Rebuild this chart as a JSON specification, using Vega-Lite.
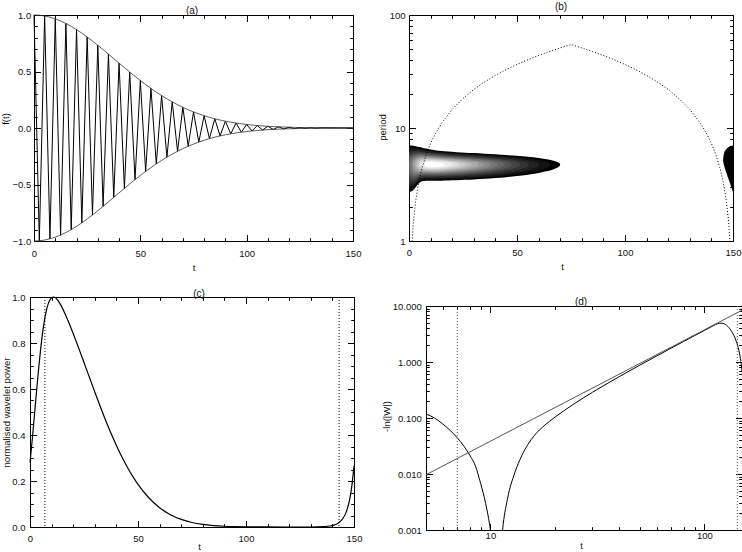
{
"$schema": "https://vega.github.io/schema/vega-lite/v6.json",
"background": "white",
"padding": {"left": 0, "top": 1, "right": 0, "bottom": 0},
"autosize": {"type": "pad"},
"config": {
 "font": "Liberation Sans",
 "view": {"stroke": "#000", "strokeWidth": 1},
 "axis": {"domain": false, "grid": false, "tickColor": "#000", "tickWidth": 1, "labelFont": "Liberation Sans Narrow, Liberation Sans", "labelFontSize": 9.5, "labelColor": "#111", "titleFont": "Liberation Sans", "titleFontSize": 9.5, "titleFontWeight": "normal", "titleColor": "#111", "labelOverlap": false, "labelFlush": false, "labelBound": false, "minExtent": 0},
 "title": {"font": "Liberation Sans", "fontSize": 10, "fontWeight": "normal", "color": "#111"}
},
"datasets": {
 "osc": [
  {"t":0,"f":1,"up":1,"lo":-1},{"t":2.5,"f":-0.9978,"up":0.9978,"lo":-0.9978},{"t":5,"f":0.9914,"up":0.9914,"lo":-0.9914},{"t":7.5,"f":-0.9807,"up":0.9807,"lo":-0.9807},{"t":10,"f":0.9659,"up":0.9659,"lo":-0.9659},{"t":12.5,"f":-0.9473,"up":0.9473,"lo":-0.9473},{"t":15,"f":0.925,"up":0.925,"lo":-0.925},{"t":17.5,"f":-0.8993,"up":0.8993,"lo":-0.8993},{"t":20,"f":0.8705,"up":0.8705,"lo":-0.8705},{"t":22.5,"f":-0.839,"up":0.839,"lo":-0.839},{"t":25,"f":0.8052,"up":0.8052,"lo":-0.8052},{"t":27.5,"f":-0.7694,"up":0.7694,"lo":-0.7694},{"t":30,"f":0.7319,"up":0.7319,"lo":-0.7319},{"t":32.5,"f":-0.6933,"up":0.6933,"lo":-0.6933},{"t":35,"f":0.6539,"up":0.6539,"lo":-0.6539},{"t":37.5,"f":-0.6141,"up":0.6141,"lo":-0.6141},{"t":40,"f":0.5742,"up":0.5742,"lo":-0.5742},{"t":42.5,"f":-0.5346,"up":0.5346,"lo":-0.5346},{"t":45,"f":0.4955,"up":0.4955,"lo":-0.4955},{"t":47.5,"f":-0.4573,"up":0.4573,"lo":-0.4573},{"t":50,"f":0.4203,"up":0.4203,"lo":-0.4203},{"t":52.5,"f":-0.3845,"up":0.3845,"lo":-0.3845},{"t":55,"f":0.3503,"up":0.3503,"lo":-0.3503},{"t":57.5,"f":-0.3178,"up":0.3178,"lo":-0.3178},{"t":60,"f":0.287,"up":0.287,"lo":-0.287},{"t":62.5,"f":-0.2581,"up":0.2581,"lo":-0.2581},{"t":65,"f":0.2311,"up":0.2311,"lo":-0.2311},{"t":67.5,"f":-0.206,"up":0.206,"lo":-0.206},{"t":70,"f":0.1829,"up":0.1829,"lo":-0.1829},{"t":72.5,"f":-0.1616,"up":0.1616,"lo":-0.1616},{"t":75,"f":0.1422,"up":0.1422,"lo":-0.1422},{"t":77.5,"f":-0.1246,"up":0.1246,"lo":-0.1246},{"t":80,"f":0.1087,"up":0.1087,"lo":-0.1087},{"t":82.5,"f":-0.0944,"up":0.0944,"lo":-0.0944},{"t":85,"f":0.0817,"up":0.0817,"lo":-0.0817},{"t":87.5,"f":-0.0703,"up":0.0703,"lo":-0.0703},{"t":90,"f":0.0603,"up":0.0603,"lo":-0.0603},{"t":92.5,"f":-0.0515,"up":0.0515,"lo":-0.0515},{"t":95,"f":0.0437,"up":0.0437,"lo":-0.0437},{"t":97.5,"f":-0.037,"up":0.037,"lo":-0.037},{"t":100,"f":0.0312,"up":0.0312,"lo":-0.0312},{"t":102.5,"f":-0.0262,"up":0.0262,"lo":-0.0262},{"t":105,"f":0.0219,"up":0.0219,"lo":-0.0219},{"t":107.5,"f":-0.0182,"up":0.0182,"lo":-0.0182},{"t":110,"f":0.0151,"up":0.0151,"lo":-0.0151},{"t":112.5,"f":-0.0124,"up":0.0124,"lo":-0.0124},{"t":115,"f":0.0102,"up":0.0102,"lo":-0.0102},{"t":117.5,"f":-0.0083,"up":0.0083,"lo":-0.0083},{"t":120,"f":0.0068,"up":0.0068,"lo":-0.0068},{"t":122.5,"f":-0.0055,"up":0.0055,"lo":-0.0055},{"t":125,"f":0.0044,"up":0.0044,"lo":-0.0044},{"t":127.5,"f":-0.0036,"up":0.0036,"lo":-0.0036},{"t":130,"f":0.0029,"up":0.0029,"lo":-0.0029},{"t":132.5,"f":-0.0023,"up":0.0023,"lo":-0.0023},{"t":135,"f":0.0018,"up":0.0018,"lo":-0.0018},{"t":150,"f":0,"up":0,"lo":0}
 ],
 "heat": [
  {"lev":"L0","t":0,"lo":0.434,"hi":0.846},{"lev":"L0","t":1,"lo":0.438,"hi":0.845},{"lev":"L0","t":2,"lo":0.452,"hi":0.843},{"lev":"L0","t":3,"lo":0.473,"hi":0.839},{"lev":"L0","t":4,"lo":0.4995,"hi":0.835},{"lev":"L0","t":5,"lo":0.518,"hi":0.831},{"lev":"L0","t":6,"lo":0.528,"hi":0.826},{"lev":"L0","t":8,"lo":0.5335,"hi":0.818},{"lev":"L0","t":10,"lo":0.533,"hi":0.81},{"lev":"L0","t":12,"lo":0.533,"hi":0.804},{"lev":"L0","t":15,"lo":0.534,"hi":0.7965},{"lev":"L0","t":18,"lo":0.536,"hi":0.791},{"lev":"L0","t":22,"lo":0.538,"hi":0.786},{"lev":"L0","t":26,"lo":0.541,"hi":0.782},{"lev":"L0","t":30,"lo":0.545,"hi":0.778},{"lev":"L0","t":35,"lo":0.5506,"hi":0.773},{"lev":"L0","t":40,"lo":0.557,"hi":0.768},{"lev":"L0","t":45,"lo":0.565,"hi":0.761},{"lev":"L0","t":50,"lo":0.575,"hi":0.754},{"lev":"L0","t":55,"lo":0.587,"hi":0.745},{"lev":"L0","t":60,"lo":0.602,"hi":0.734},{"lev":"L0","t":63,"lo":0.614,"hi":0.725},{"lev":"L0","t":66,"lo":0.629,"hi":0.714},{"lev":"L0","t":68,"lo":0.643,"hi":0.7037},{"lev":"L0","t":69.3,"lo":0.6575,"hi":0.693},{"lev":"L0","t":69.8,"lo":0.667,"hi":0.686},{"lev":"L0","t":70,"lo":0.678,"hi":0.678},
  {"lev":"M0","t":0,"lo":0.4606,"hi":0.8276},{"lev":"M0","t":1,"lo":0.4523,"hi":0.8294},{"lev":"M0","t":2,"lo":0.4653,"hi":0.8285},{"lev":"M0","t":3,"lo":0.4895,"hi":0.8263},{"lev":"M0","t":4,"lo":0.5131,"hi":0.8231},{"lev":"M0","t":5,"lo":0.5299,"hi":0.8196},{"lev":"M0","t":6,"lo":0.5388,"hi":0.8158},{"lev":"M0","t":8,"lo":0.5433,"hi":0.8081},{"lev":"M0","t":10,"lo":0.5431,"hi":0.8012},{"lev":"M0","t":12,"lo":0.5431,"hi":0.7953},{"lev":"M0","t":15,"lo":0.5442,"hi":0.7884},{"lev":"M0","t":18,"lo":0.5457,"hi":0.7833},{"lev":"M0","t":22,"lo":0.5484,"hi":0.7779},{"lev":"M0","t":26,"lo":0.5518,"hi":0.7737},{"lev":"M0","t":30,"lo":0.5557,"hi":0.7698},{"lev":"M0","t":35,"lo":0.5618,"hi":0.7647},{"lev":"M0","t":40,"lo":0.5691,"hi":0.7588},{"lev":"M0","t":45,"lo":0.5781,"hi":0.7519},{"lev":"M0","t":50,"lo":0.5892,"hi":0.7437},{"lev":"M0","t":55,"lo":0.6035,"hi":0.7332},{"lev":"M0","t":60,"lo":0.6231,"hi":0.7186},{"lev":"M0","t":63,"lo":0.6408,"hi":0.7055},{"lev":"M0","t":64.5,"lo":0.6548,"hi":0.6952},{"lev":"M0","t":65.44,"lo":0.678,"hi":0.678},
  {"lev":"L1","t":0,"lo":0.4935,"hi":0.805},{"lev":"L1","t":1,"lo":0.487,"hi":0.81},{"lev":"L1","t":2,"lo":0.4892,"hi":0.8116},{"lev":"L1","t":3,"lo":0.509,"hi":0.811},{"lev":"L1","t":4,"lo":0.529,"hi":0.809},{"lev":"L1","t":5,"lo":0.5434,"hi":0.8066},{"lev":"L1","t":6,"lo":0.551,"hi":0.8036},{"lev":"L1","t":8,"lo":0.5547,"hi":0.797},{"lev":"L1","t":10,"lo":0.5544,"hi":0.791},{"lev":"L1","t":12,"lo":0.5544,"hi":0.7855},{"lev":"L1","t":15,"lo":0.5555,"hi":0.779},{"lev":"L1","t":18,"lo":0.5573,"hi":0.774},{"lev":"L1","t":22,"lo":0.5602,"hi":0.7688},{"lev":"L1","t":26,"lo":0.5639,"hi":0.7645},{"lev":"L1","t":30,"lo":0.5683,"hi":0.7604},{"lev":"L1","t":35,"lo":0.575,"hi":0.7548},{"lev":"L1","t":40,"lo":0.5834,"hi":0.7481},{"lev":"L1","t":45,"lo":0.5939,"hi":0.7402},{"lev":"L1","t":50,"lo":0.6075,"hi":0.7302},{"lev":"L1","t":55,"lo":0.6266,"hi":0.7161},{"lev":"L1","t":58,"lo":0.6442,"hi":0.7031},{"lev":"L1","t":59,"lo":0.6529,"hi":0.6966},{"lev":"L1","t":60,"lo":0.6678,"hi":0.6855},{"lev":"L1","t":60.2,"lo":0.678,"hi":0.678},
  {"lev":"M1","t":0,"lo":0.5254,"hi":0.783},{"lev":"M1","t":1,"lo":0.5079,"hi":0.7921},{"lev":"M1","t":2,"lo":0.5112,"hi":0.7961},{"lev":"M1","t":3,"lo":0.5264,"hi":0.7973},{"lev":"M1","t":4,"lo":0.5431,"hi":0.7967},{"lev":"M1","t":5,"lo":0.5555,"hi":0.7951},{"lev":"M1","t":6,"lo":0.562,"hi":0.7928},{"lev":"M1","t":8,"lo":0.5648,"hi":0.7873},{"lev":"M1","t":10,"lo":0.5643,"hi":0.7818},{"lev":"M1","t":12,"lo":0.5644,"hi":0.7768},{"lev":"M1","t":15,"lo":0.5656,"hi":0.7707},{"lev":"M1","t":18,"lo":0.5675,"hi":0.766},{"lev":"M1","t":22,"lo":0.5707,"hi":0.7607},{"lev":"M1","t":26,"lo":0.5748,"hi":0.7563},{"lev":"M1","t":30,"lo":0.5797,"hi":0.7518},{"lev":"M1","t":35,"lo":0.5873,"hi":0.7456},{"lev":"M1","t":40,"lo":0.5969,"hi":0.7381},{"lev":"M1","t":45,"lo":0.6095,"hi":0.7287},{"lev":"M1","t":50,"lo":0.627,"hi":0.7157},{"lev":"M1","t":53,"lo":0.6429,"hi":0.7039},{"lev":"M1","t":55,"lo":0.6614,"hi":0.6903},{"lev":"M1","t":55.6,"lo":0.678,"hi":0.678},
  {"lev":"L2","t":0,"lo":0.5574,"hi":0.761},{"lev":"L2","t":1,"lo":0.5335,"hi":0.775},{"lev":"L2","t":2,"lo":0.5315,"hi":0.7817},{"lev":"L2","t":3,"lo":0.5424,"hi":0.7847},{"lev":"L2","t":4,"lo":0.556,"hi":0.7854},{"lev":"L2","t":5,"lo":0.5664,"hi":0.7847},{"lev":"L2","t":6,"lo":0.5718,"hi":0.7832},{"lev":"L2","t":8,"lo":0.5738,"hi":0.7786},{"lev":"L2","t":10,"lo":0.5732,"hi":0.7738},{"lev":"L2","t":12,"lo":0.5732,"hi":0.7692},{"lev":"L2","t":15,"lo":0.5745,"hi":0.7633},{"lev":"L2","t":18,"lo":0.5766,"hi":0.7587},{"lev":"L2","t":22,"lo":0.5801,"hi":0.7534},{"lev":"L2","t":26,"lo":0.5846,"hi":0.7488},{"lev":"L2","t":30,"lo":0.59,"hi":0.7441},{"lev":"L2","t":35,"lo":0.5986,"hi":0.7372},{"lev":"L2","t":40,"lo":0.6099,"hi":0.7285},{"lev":"L2","t":45,"lo":0.6254,"hi":0.7169},{"lev":"L2","t":48,"lo":0.6389,"hi":0.707},{"lev":"L2","t":50,"lo":0.6522,"hi":0.6971},{"lev":"L2","t":51,"lo":0.6632,"hi":0.689},{"lev":"L2","t":51.6,"lo":0.678,"hi":0.678},
  {"lev":"M2","t":0,"lo":0.5931,"hi":0.7364},{"lev":"M2","t":1,"lo":0.5591,"hi":0.7578},{"lev":"M2","t":2,"lo":0.551,"hi":0.7679},{"lev":"M2","t":3,"lo":0.5574,"hi":0.7729},{"lev":"M2","t":4,"lo":0.5678,"hi":0.7749},{"lev":"M2","t":5,"lo":0.5763,"hi":0.7752},{"lev":"M2","t":6,"lo":0.5807,"hi":0.7743},{"lev":"M2","t":8,"lo":0.582,"hi":0.7708},{"lev":"M2","t":10,"lo":0.5812,"hi":0.7664},{"lev":"M2","t":12,"lo":0.5812,"hi":0.7622},{"lev":"M2","t":15,"lo":0.5827,"hi":0.7566},{"lev":"M2","t":18,"lo":0.5849,"hi":0.7521},{"lev":"M2","t":22,"lo":0.5888,"hi":0.7468},{"lev":"M2","t":26,"lo":0.5937,"hi":0.7419},{"lev":"M2","t":30,"lo":0.5998,"hi":0.7368},{"lev":"M2","t":35,"lo":0.6095,"hi":0.729},{"lev":"M2","t":40,"lo":0.623,"hi":0.7188},{"lev":"M2","t":44,"lo":0.6387,"hi":0.7071},{"lev":"M2","t":46,"lo":0.6507,"hi":0.6982},{"lev":"M2","t":47.8,"lo":0.678,"hi":0.678},
  {"lev":"L3","t":0,"lo":0.6474,"hi":0.699},{"lev":"L3","t":0.5,"lo":0.606,"hi":0.7264},{"lev":"L3","t":1,"lo":0.5865,"hi":0.7394},{"lev":"L3","t":2,"lo":0.5704,"hi":0.7542},{"lev":"L3","t":3,"lo":0.5719,"hi":0.7615},{"lev":"L3","t":4,"lo":0.5791,"hi":0.765},{"lev":"L3","t":5,"lo":0.5857,"hi":0.7662},{"lev":"L3","t":6,"lo":0.589,"hi":0.7661},{"lev":"L3","t":8,"lo":0.5895,"hi":0.7635},{"lev":"L3","t":10,"lo":0.5886,"hi":0.7596},{"lev":"L3","t":12,"lo":0.5887,"hi":0.7557},{"lev":"L3","t":15,"lo":0.5902,"hi":0.7504},{"lev":"L3","t":18,"lo":0.5927,"hi":0.7459},{"lev":"L3","t":22,"lo":0.5969,"hi":0.7405},{"lev":"L3","t":26,"lo":0.6023,"hi":0.7354},{"lev":"L3","t":30,"lo":0.6092,"hi":0.7297},{"lev":"L3","t":35,"lo":0.6205,"hi":0.7208},{"lev":"L3","t":40,"lo":0.6375,"hi":0.7081},{"lev":"L3","t":43,"lo":0.6547,"hi":0.6952},{"lev":"L3","t":44.4,"lo":0.678,"hi":0.678},
  {"lev":"M3","t":0.52,"lo":0.678,"hi":0.678},{"lev":"M3","t":1,"lo":0.62,"hi":0.7169},{"lev":"M3","t":2,"lo":0.5908,"hi":0.7397},{"lev":"M3","t":3,"lo":0.5863,"hi":0.7501},{"lev":"M3","t":4,"lo":0.5902,"hi":0.7553},{"lev":"M3","t":5,"lo":0.5947,"hi":0.7576},{"lev":"M3","t":6,"lo":0.5969,"hi":0.7582},{"lev":"M3","t":8,"lo":0.5967,"hi":0.7565},{"lev":"M3","t":10,"lo":0.5956,"hi":0.7532},{"lev":"M3","t":12,"lo":0.5957,"hi":0.7496},{"lev":"M3","t":15,"lo":0.5974,"hi":0.7445},{"lev":"M3","t":18,"lo":0.6,"hi":0.7401},{"lev":"M3","t":22,"lo":0.6047,"hi":0.7345},{"lev":"M3","t":26,"lo":0.6107,"hi":0.729},{"lev":"M3","t":30,"lo":0.6186,"hi":0.7226},{"lev":"M3","t":35,"lo":0.6322,"hi":0.7122},{"lev":"M3","t":38,"lo":0.6444,"hi":0.7029},{"lev":"M3","t":40,"lo":0.657,"hi":0.6936},{"lev":"M3","t":41.3,"lo":0.678,"hi":0.678},
  {"lev":"L4","t":1.15,"lo":0.678,"hi":0.678},{"lev":"L4","t":1.5,"lo":0.6332,"hi":0.7086},{"lev":"L4","t":2,"lo":0.6139,"hi":0.7234},{"lev":"L4","t":3,"lo":0.6013,"hi":0.7384},{"lev":"L4","t":4,"lo":0.6012,"hi":0.7456},{"lev":"L4","t":5,"lo":0.6035,"hi":0.7492},{"lev":"L4","t":6,"lo":0.6047,"hi":0.7506},{"lev":"L4","t":8,"lo":0.6036,"hi":0.7499},{"lev":"L4","t":10,"lo":0.6023,"hi":0.7471},{"lev":"L4","t":12,"lo":0.6024,"hi":0.7438},{"lev":"L4","t":15,"lo":0.6042,"hi":0.7388},{"lev":"L4","t":18,"lo":0.6072,"hi":0.7344},{"lev":"L4","t":22,"lo":0.6123,"hi":0.7286},{"lev":"L4","t":26,"lo":0.6191,"hi":0.7226},{"lev":"L4","t":30,"lo":0.6283,"hi":0.7154},{"lev":"L4","t":35,"lo":0.6458,"hi":0.702},{"lev":"L4","t":37,"lo":0.658,"hi":0.6929},{"lev":"L4","t":38.2,"lo":0.678,"hi":0.678},
  {"lev":"M4","t":1.78,"lo":0.678,"hi":0.678},{"lev":"M4","t":2,"lo":0.6468,"hi":0.7001},{"lev":"M4","t":3,"lo":0.6178,"hi":0.7253},{"lev":"M4","t":4,"lo":0.6126,"hi":0.7356},{"lev":"M4","t":5,"lo":0.6125,"hi":0.7406},{"lev":"M4","t":6,"lo":0.6123,"hi":0.743},{"lev":"M4","t":8,"lo":0.6104,"hi":0.7433},{"lev":"M4","t":10,"lo":0.6089,"hi":0.7411},{"lev":"M4","t":12,"lo":0.609,"hi":0.738},{"lev":"M4","t":15,"lo":0.611,"hi":0.7333},{"lev":"M4","t":18,"lo":0.6142,"hi":0.7288},{"lev":"M4","t":22,"lo":0.62,"hi":0.7227},{"lev":"M4","t":26,"lo":0.6279,"hi":0.716},{"lev":"M4","t":30,"lo":0.639,"hi":0.7073},{"lev":"M4","t":33,"lo":0.6518,"hi":0.6976},{"lev":"M4","t":35.3,"lo":0.678,"hi":0.678},
  {"lev":"L5","t":2.44,"lo":0.678,"hi":0.678},{"lev":"L5","t":3,"lo":0.6384,"hi":0.7092},{"lev":"L5","t":4,"lo":0.625,"hi":0.7246},{"lev":"L5","t":5,"lo":0.6218,"hi":0.7317},{"lev":"L5","t":6,"lo":0.6202,"hi":0.7352},{"lev":"L5","t":8,"lo":0.6171,"hi":0.7368},{"lev":"L5","t":10,"lo":0.6154,"hi":0.7351},{"lev":"L5","t":12,"lo":0.6155,"hi":0.7323},{"lev":"L5","t":15,"lo":0.6178,"hi":0.7277},{"lev":"L5","t":18,"lo":0.6214,"hi":0.7231},{"lev":"L5","t":22,"lo":0.628,"hi":0.7165},{"lev":"L5","t":26,"lo":0.6374,"hi":0.7088},{"lev":"L5","t":30,"lo":0.6523,"hi":0.6973},{"lev":"L5","t":31.5,"lo":0.6621,"hi":0.6899},{"lev":"L5","t":32.4,"lo":0.678,"hi":0.678},
  {"lev":"M5","t":3.12,"lo":0.678,"hi":0.678},{"lev":"M5","t":4,"lo":0.6397,"hi":0.7117},{"lev":"M5","t":5,"lo":0.6319,"hi":0.7221},{"lev":"M5","t":6,"lo":0.6284,"hi":0.7271},{"lev":"M5","t":8,"lo":0.6241,"hi":0.7301},{"lev":"M5","t":10,"lo":0.6221,"hi":0.7291},{"lev":"M5","t":12,"lo":0.6222,"hi":0.7266},{"lev":"M5","t":15,"lo":0.6247,"hi":0.722},{"lev":"M5","t":18,"lo":0.6288,"hi":0.7172},{"lev":"M5","t":22,"lo":0.6366,"hi":0.7099},{"lev":"M5","t":26,"lo":0.6486,"hi":0.7003},{"lev":"M5","t":28,"lo":0.6583,"hi":0.6929},{"lev":"M5","t":29.5,"lo":0.678,"hi":0.678},
  {"lev":"L6","t":3.85,"lo":0.678,"hi":0.678},{"lev":"L6","t":4,"lo":0.6629,"hi":0.6913},{"lev":"L6","t":5,"lo":0.6437,"hi":0.7108},{"lev":"L6","t":6,"lo":0.6374,"hi":0.7182},{"lev":"L6","t":8,"lo":0.6313,"hi":0.7231},{"lev":"L6","t":10,"lo":0.629,"hi":0.7228},{"lev":"L6","t":12,"lo":0.6291,"hi":0.7205},{"lev":"L6","t":15,"lo":0.632,"hi":0.7159},{"lev":"L6","t":18,"lo":0.6368,"hi":0.7108},{"lev":"L6","t":22,"lo":0.6466,"hi":0.7022},{"lev":"L6","t":25,"lo":0.6589,"hi":0.6926},{"lev":"L6","t":26.6,"lo":0.678,"hi":0.678},
  {"lev":"M6","t":4.69,"lo":0.678,"hi":0.678},{"lev":"M6","t":5,"lo":0.6608,"hi":0.6944},{"lev":"M6","t":6,"lo":0.6481,"hi":0.7076},{"lev":"M6","t":8,"lo":0.6393,"hi":0.7154},{"lev":"M6","t":10,"lo":0.6364,"hi":0.716},{"lev":"M6","t":12,"lo":0.6365,"hi":0.7141},{"lev":"M6","t":15,"lo":0.64,"hi":0.7094},{"lev":"M6","t":18,"lo":0.646,"hi":0.7035},{"lev":"M6","t":20,"lo":0.6518,"hi":0.6986},{"lev":"M6","t":22,"lo":0.6602,"hi":0.6917},{"lev":"M6","t":23.6,"lo":0.678,"hi":0.678},
  {"lev":"L7","t":5.68,"lo":0.678,"hi":0.678},{"lev":"L7","t":6,"lo":0.664,"hi":0.6919},{"lev":"L7","t":8,"lo":0.6485,"hi":0.7065},{"lev":"L7","t":10,"lo":0.6447,"hi":0.7084},{"lev":"L7","t":12,"lo":0.6449,"hi":0.7068},{"lev":"L7","t":15,"lo":0.6493,"hi":0.7017},{"lev":"L7","t":18,"lo":0.6579,"hi":0.694},{"lev":"L7","t":20,"lo":0.6698,"hi":0.6845},{"lev":"L7","t":20.37,"lo":0.678,"hi":0.678},
  {"lev":"M7","t":7.0,"lo":0.678,"hi":0.678},{"lev":"M7","t":8,"lo":0.6613,"hi":0.6942},{"lev":"M7","t":10,"lo":0.6551,"hi":0.699},{"lev":"M7","t":12,"lo":0.6553,"hi":0.6977},{"lev":"M7","t":15,"lo":0.6625,"hi":0.6908},{"lev":"M7","t":16.8,"lo":0.678,"hi":0.678},
  {"lev":"R","t":145.4,"lo":0.715,"hi":0.715},{"lev":"R","t":145.6,"lo":0.69,"hi":0.75},{"lev":"R","t":146,"lo":0.66,"hi":0.785},{"lev":"R","t":147,"lo":0.6,"hi":0.815},{"lev":"R","t":148,"lo":0.545,"hi":0.832},{"lev":"R","t":149,"lo":0.49,"hi":0.842},{"lev":"R","t":150,"lo":0.434,"hi":0.846}
 ],
 "coi": [
  {"t":1,"p":0.7305},{"t":2,"p":1.461},{"t":3,"p":2.1915},{"t":4,"p":2.922},{"t":5,"p":3.6525},{"t":6,"p":4.383},{"t":8,"p":5.844},{"t":10,"p":7.305},{"t":12,"p":8.766},{"t":15,"p":10.96},{"t":20,"p":14.61},{"t":25,"p":18.26},{"t":30,"p":21.92},{"t":35,"p":25.57},{"t":40,"p":29.22},{"t":45,"p":32.87},{"t":50,"p":36.53},{"t":55,"p":40.18},{"t":60,"p":43.83},{"t":65,"p":47.48},{"t":70,"p":51.14},{"t":75,"p":54.79},{"t":80,"p":51.14},{"t":85,"p":47.48},{"t":90,"p":43.83},{"t":95,"p":40.18},{"t":100,"p":36.53},{"t":105,"p":32.87},{"t":110,"p":29.22},{"t":115,"p":25.57},{"t":120,"p":21.92},{"t":125,"p":18.26},{"t":130,"p":14.61},{"t":135,"p":10.96},{"t":138,"p":8.766},{"t":140,"p":7.305},{"t":142,"p":5.844},{"t":144,"p":4.383},{"t":145,"p":3.6525},{"t":146,"p":2.922},{"t":147,"p":2.1915},{"t":148,"p":1.461},{"t":149,"p":0.7305}
 ],
 "pc": [
  {"t":0,"p":0.2805},{"t":1,"p":0.3763},{"t":2,"p":0.4805},{"t":3,"p":0.587},{"t":4,"p":0.6889},{"t":5,"p":0.78},{"t":6,"p":0.8561},{"t":7,"p":0.9151},{"t":8,"p":0.9573},{"t":9,"p":0.9838},{"t":10,"p":0.997},{"t":11,"p":1},{"t":12,"p":0.995},{"t":13,"p":0.9841},{"t":14,"p":0.9692},{"t":15,"p":0.9516},{"t":16,"p":0.9318},{"t":18,"p":0.8884},{"t":20,"p":0.8412},{"t":22,"p":0.7919},{"t":25,"p":0.7154},{"t":28,"p":0.638},{"t":30,"p":0.5869},{"t":33,"p":0.5123},{"t":35,"p":0.4645},{"t":38,"p":0.3967},{"t":40,"p":0.3545},{"t":43,"p":0.2963},{"t":45,"p":0.2611},{"t":48,"p":0.2135},{"t":50,"p":0.1855},{"t":55,"p":0.1271},{"t":60,"p":0.084},{"t":65,"p":0.0535},{"t":70,"p":0.033},{"t":75,"p":0.0196},{"t":80,"p":0.0112},{"t":85,"p":0.0062},{"t":90,"p":0.0033},{"t":95,"p":0.0017},{"t":100,"p":0.0008},{"t":110,"p":0.0002},{"t":120,"p":0},{"t":130,"p":0},{"t":136,"p":0.0017},{"t":139,"p":0.0045},{"t":141,"p":0.0091},{"t":143,"p":0.0183},{"t":145,"p":0.039},{"t":146,"p":0.056},{"t":147,"p":0.082},{"t":148,"p":0.12},{"t":149,"p":0.179},{"t":150,"p":0.267}
 ],
 "vc": [{"t":6.9},{"t":143.1}],
 "pd": [
  {"t":5,"d":0.118},{"t":5.5,"d":0.0992},{"t":6,"d":0.0777},{"t":6.5,"d":0.0594},{"t":7,"d":0.0444},{"t":7.5,"d":0.0318},{"t":8,"d":0.0218},{"t":8.5,"d":0.0141},{"t":9,"d":0.0068},{"t":9.5,"d":0.003},{"t":10,"d":0.001},{"t":10.3,"d":0.0004},{"t":10.7,"d":0.00001},{"t":11.1,"d":0.0003},{"t":11.4,"d":0.001},{"t":12,"d":0.0035},{"t":13,"d":0.0105},{"t":14,"d":0.021},{"t":15,"d":0.034},{"t":16,"d":0.048},{"t":18,"d":0.075},{"t":20,"d":0.103},{"t":22,"d":0.134},{"t":25,"d":0.186},{"t":30,"d":0.288},{"t":35,"d":0.408},{"t":40,"d":0.547},{"t":45,"d":0.704},{"t":50,"d":0.88},{"t":60,"d":1.287},{"t":70,"d":1.768},{"t":80,"d":2.323},{"t":90,"d":2.952},{"t":100,"d":3.655},{"t":110,"d":4.432},{"t":115,"d":4.8},{"t":118,"d":4.91},{"t":121,"d":4.93},{"t":124,"d":4.8},{"t":127,"d":4.52},{"t":130,"d":4.15},{"t":133,"d":3.7},{"t":136,"d":3.2},{"t":139,"d":2.7},{"t":141,"d":2.35},{"t":143,"d":2.0},{"t":145,"d":1.62},{"t":146,"d":1.44},{"t":147,"d":1.25},{"t":148,"d":1.06},{"t":149,"d":0.86},{"t":150,"d":0.66}
 ],
 "ld": [{"t":5,"v":0.0097},{"t":150,"v":8.4}],
 "vd": [{"t":7.0},{"t":142.6}]
},
"spacing": 16,
"vconcat": [
 {"spacing": 14, "hconcat": [
  {"spacing": -31, "hconcat": [
   {"width": 1, "height": 1, "data": {"values": []}, "mark": "point", "view": {"stroke": null}},
   {"width": 319, "height": 226,
    "title": {"text": "(a)", "frame": "group", "anchor": "middle", "dx": -1.5, "dy": 11, "baseline": "middle", "offset": 0},
    "data": {"name": "osc"},
    "layer": [
     {"mark": {"type": "line", "color": "#000", "strokeWidth": 1},
      "encoding": {
       "x": {"field": "t", "type": "quantitative", "scale": {"domain": [0, 150], "nice": false, "zero": false},
        "axis": {"orient": "bottom", "values": [0,10,20,30,40,50,60,70,80,90,100,110,120,130,140,150], "labelExpr": "datum.value % 50 == 0 ? datum.label : ''", "tickSize": {"condition": {"test": "datum.value % 50 == 0", "value": -6.5}, "value": -3.3}, "labelPadding": 18.5, "labelBaseline": "middle", "title": "t", "titleX": 159.5, "titleY": 26, "titleBaseline": "middle"}},
       "y": {"field": "f", "type": "quantitative", "scale": {"domain": [-1, 1], "nice": false, "zero": false},
        "axis": {"orient": "left", "values": [-1,-0.9,-0.8,-0.7,-0.6,-0.5,-0.4,-0.3,-0.2,-0.1,0,0.1,0.2,0.3,0.4,0.5,0.6,0.7,0.8,0.9,1], "format": ".1f", "labelExpr": "abs(datum.value*2-round(datum.value*2))<0.01 ? datum.label : ''", "tickSize": {"condition": {"test": "abs(datum.value*2-round(datum.value*2))<0.01", "value": -6.5}, "value": -3.3}, "labelPadding": 9.8, "title": "f(t)", "titleX": -28.5, "titleY": 103.5, "titleBaseline": "middle"}}
      }},
     {"mark": {"type": "line", "color": "#333", "strokeWidth": 0.8},
      "encoding": {
       "x": {"field": "t", "type": "quantitative", "scale": {"domain": [0, 150], "nice": false, "zero": false},
        "axis": {"orient": "top", "values": [0,10,20,30,40,50,60,70,80,90,100,110,120,130,140,150], "labels": false, "tickSize": {"condition": {"test": "datum.value % 50 == 0", "value": -6.5}, "value": -3.3}, "title": null}},
       "y": {"field": "up", "type": "quantitative", "scale": {"domain": [-1, 1], "nice": false, "zero": false},
        "axis": {"orient": "right", "values": [-1,-0.9,-0.8,-0.7,-0.6,-0.5,-0.4,-0.3,-0.2,-0.1,0,0.1,0.2,0.3,0.4,0.5,0.6,0.7,0.8,0.9,1], "labels": false, "tickSize": {"condition": {"test": "abs(datum.value*2-round(datum.value*2))<0.01", "value": -6.5}, "value": -3.3}, "title": null}}
      }},
     {"mark": {"type": "line", "color": "#333", "strokeWidth": 0.8},
      "encoding": {
       "x": {"field": "t", "type": "quantitative", "scale": {"domain": [0, 150], "nice": false, "zero": false}, "axis": null},
       "y": {"field": "lo", "type": "quantitative", "scale": {"domain": [-1, 1], "nice": false, "zero": false}, "axis": null}
      }}
    ],
    "resolve": {"axis": {"x": "independent", "y": "independent"}}
   }
  ]},
  {"width": 324, "height": 226,
   "title": {"text": "(b)", "frame": "group", "anchor": "middle", "dx": -10, "dy": 7, "baseline": "middle", "offset": 0},
   "layer": [
    {"data": {"name": "heat"},
     "mark": {"type": "area", "interpolate": "monotone", "opacity": 1, "clip": true},
     "encoding": {
      "x": {"field": "t", "type": "quantitative", "scale": {"domain": [0, 150], "nice": false, "zero": false}, "axis": null},
      "y": {"field": "lo", "type": "quantitative", "scale": {"domain": [0, 2], "nice": false, "zero": false}, "axis": null, "stack": null},
      "y2": {"field": "hi"},
      "color": {"field": "lev", "type": "nominal", "scale": {"domain": ["L0","M0","L1","M1","L2","M2","L3","M3","L4","M4","L5","M5","L6","M6","L7","M7","R"], "range": ["#000000","#111111","#222222","#333333","#444444","#555555","#666666","#777777","#888888","#999999","#aaaaaa","#bbbbbb","#cccccc","#dddddd","#eeeeee","#ffffff","#000000"]}, "legend": null}
     }},
    {"data": {"name": "coi"},
     "mark": {"type": "line", "color": "#000", "strokeWidth": 1, "strokeDash": [1, 2], "clip": true},
     "encoding": {
      "x": {"field": "t", "type": "quantitative", "scale": {"domain": [0, 150], "nice": false, "zero": false},
       "axis": {"orient": "bottom", "values": [0,10,20,30,40,50,60,70,80,90,100,110,120,130,140,150], "labelExpr": "datum.value % 50 == 0 ? datum.label : ''", "tickSize": {"condition": {"test": "datum.value % 50 == 0", "value": -6.5}, "value": -3.3}, "labelPadding": 17.5, "labelBaseline": "middle", "title": "t", "titleX": 153, "titleY": 25, "titleBaseline": "middle"}},
      "y": {"field": "p", "type": "quantitative", "scale": {"type": "log", "domain": [1, 100], "nice": false},
       "axis": {"orient": "left", "values": [1,2,3,4,5,6,7,8,9,10,20,30,40,50,60,70,80,90,100], "labelExpr": "abs(log(datum.value)/LN10-round(log(datum.value)/LN10))<0.01 ? format(datum.value,'d') : ''", "tickSize": {"condition": {"test": "abs(log(datum.value)/LN10-round(log(datum.value)/LN10))<0.01", "value": -6.5}, "value": -3.3}, "labelPadding": 10.5, "title": "period", "titleX": -27, "titleY": 112, "titleBaseline": "middle"}}
     }},
    {"data": {"name": "coi"},
     "mark": {"type": "line", "strokeOpacity": 0, "clip": true},
     "encoding": {
      "x": {"field": "t", "type": "quantitative", "scale": {"domain": [0, 150], "nice": false, "zero": false},
       "axis": {"orient": "top", "values": [0,10,20,30,40,50,60,70,80,90,100,110,120,130,140,150], "labels": false, "tickSize": {"condition": {"test": "datum.value % 50 == 0", "value": -6.5}, "value": -3.3}, "title": null}},
      "y": {"field": "p", "type": "quantitative", "scale": {"type": "log", "domain": [1, 100], "nice": false},
       "axis": {"orient": "right", "values": [1,2,3,4,5,6,7,8,9,10,20,30,40,50,60,70,80,90,100], "labels": false, "tickSize": {"condition": {"test": "abs(log(datum.value)/LN10-round(log(datum.value)/LN10))<0.01", "value": -6.5}, "value": -3.3}, "title": null}}
     }}
   ],
   "resolve": {"scale": {"y": "independent"}, "axis": {"x": "independent", "y": "independent"}}
  }
 ]},
 {"spacing": 17, "hconcat": [
  {"width": 324, "height": 230,
   "title": {"text": "(c)", "frame": "group", "anchor": "middle", "dx": 7, "dy": 11.5, "baseline": "middle", "offset": 0},
   "layer": [
    {"data": {"name": "pc"},
     "mark": {"type": "line", "color": "#000", "strokeWidth": 1.2, "interpolate": "monotone"},
     "encoding": {
      "x": {"field": "t", "type": "quantitative", "scale": {"domain": [0, 150], "nice": false, "zero": false},
       "axis": {"orient": "bottom", "values": [0,10,20,30,40,50,60,70,80,90,100,110,120,130,140,150], "labelExpr": "datum.value % 50 == 0 ? datum.label : ''", "tickSize": {"condition": {"test": "datum.value % 50 == 0", "value": -6.5}, "value": -3.3}, "labelPadding": 17.8, "labelBaseline": "middle", "title": "t", "titleX": 169, "titleY": 19, "titleBaseline": "middle"}},
      "y": {"field": "p", "type": "quantitative", "scale": {"domain": [0, 1], "nice": false, "zero": false},
       "axis": {"orient": "left", "values": [0,0.05,0.1,0.15,0.2,0.25,0.3,0.35,0.4,0.45,0.5,0.55,0.6,0.65,0.7,0.75,0.8,0.85,0.9,0.95,1], "format": ".1f", "labelExpr": "abs(datum.value*5-round(datum.value*5))<0.01 ? datum.label : ''", "tickSize": {"condition": {"test": "abs(datum.value*5-round(datum.value*5))<0.01", "value": -6.5}, "value": -3.3}, "labelPadding": 11.5, "title": "normalised wavelet power", "titleX": -23.5, "titleY": 115, "titleBaseline": "middle"}}
     }},
    {"data": {"name": "pc"},
     "mark": {"type": "line", "strokeOpacity": 0},
     "encoding": {
      "x": {"field": "t", "type": "quantitative", "scale": {"domain": [0, 150], "nice": false, "zero": false},
       "axis": {"orient": "top", "values": [0,10,20,30,40,50,60,70,80,90,100,110,120,130,140,150], "labels": false, "tickSize": {"condition": {"test": "datum.value % 50 == 0", "value": -6.5}, "value": -3.3}, "title": null}},
      "y": {"field": "p", "type": "quantitative", "scale": {"domain": [0, 1], "nice": false, "zero": false},
       "axis": {"orient": "right", "values": [0,0.05,0.1,0.15,0.2,0.25,0.3,0.35,0.4,0.45,0.5,0.55,0.6,0.65,0.7,0.75,0.8,0.85,0.9,0.95,1], "labels": false, "tickSize": {"condition": {"test": "abs(datum.value*5-round(datum.value*5))<0.01", "value": -6.5}, "value": -3.3}, "title": null}}
     }},
    {"data": {"name": "vc"},
     "mark": {"type": "rule", "color": "#000", "strokeWidth": 1, "strokeDash": [1, 2]},
     "encoding": {
      "x": {"field": "t", "type": "quantitative", "scale": {"domain": [0, 150], "nice": false, "zero": false}, "axis": null}
     }}
   ],
   "resolve": {"axis": {"x": "independent", "y": "independent"}}
  },
  {"spacing": -2, "vconcat": [
   {"width": 1, "height": 1, "data": {"values": []}, "mark": "point", "view": {"stroke": null}},
   {"width": 316, "height": 224,
    "title": {"text": "(d)", "frame": "group", "anchor": "middle", "dx": -3, "dy": 11, "baseline": "middle", "offset": 0},
    "layer": [
     {"data": {"name": "pd"},
      "mark": {"type": "line", "color": "#000", "strokeWidth": 1, "clip": true, "interpolate": "monotone"},
      "encoding": {
       "x": {"field": "t", "type": "quantitative", "scale": {"type": "log", "domain": [5, 150], "nice": false},
        "axis": {"orient": "bottom", "values": [6,7,8,9,10,20,30,40,50,60,70,80,90,100], "labelExpr": "abs(log(datum.value)/LN10-round(log(datum.value)/LN10))<0.01 ? format(datum.value,'d') : ''", "tickSize": {"condition": {"test": "abs(log(datum.value)/LN10-round(log(datum.value)/LN10))<0.01", "value": -6.5}, "value": -3.3}, "labelPadding": 12.2, "labelBaseline": "middle", "title": "t", "titleX": 155, "titleY": 15, "titleBaseline": "middle"}},
       "y": {"field": "d", "type": "quantitative", "scale": {"type": "log", "domain": [0.001, 10], "nice": false},
        "axis": {"orient": "left", "values": [0.001,0.002,0.003,0.004,0.005,0.006,0.007,0.008,0.009,0.01,0.02,0.03,0.04,0.05,0.06,0.07,0.08,0.09,0.1,0.2,0.3,0.4,0.5,0.6,0.7,0.8,0.9,1,2,3,4,5,6,7,8,9,10], "labelExpr": "abs(log(datum.value)/LN10-round(log(datum.value)/LN10))<0.01 ? format(datum.value,'.3f') : ''", "tickSize": {"condition": {"test": "abs(log(datum.value)/LN10-round(log(datum.value)/LN10))<0.01", "value": -6.5}, "value": -3.3}, "labelPadding": 11.2, "title": "-ln(|W|)", "titleX": -40, "titleY": 110, "titleBaseline": "middle"}}
      }},
     {"data": {"name": "ld"},
      "mark": {"type": "line", "color": "#555", "strokeWidth": 1, "clip": true},
      "encoding": {
       "x": {"field": "t", "type": "quantitative", "scale": {"type": "log", "domain": [5, 150], "nice": false},
        "axis": {"orient": "top", "values": [6,7,8,9,10,20,30,40,50,60,70,80,90,100], "labels": false, "tickSize": {"condition": {"test": "abs(log(datum.value)/LN10-round(log(datum.value)/LN10))<0.01", "value": -6.5}, "value": -3.3}, "title": null}},
       "y": {"field": "v", "type": "quantitative", "scale": {"type": "log", "domain": [0.001, 10], "nice": false},
        "axis": {"orient": "right", "values": [0.001,0.002,0.003,0.004,0.005,0.006,0.007,0.008,0.009,0.01,0.02,0.03,0.04,0.05,0.06,0.07,0.08,0.09,0.1,0.2,0.3,0.4,0.5,0.6,0.7,0.8,0.9,1,2,3,4,5,6,7,8,9,10], "labels": false, "tickSize": {"condition": {"test": "abs(log(datum.value)/LN10-round(log(datum.value)/LN10))<0.01", "value": -6.5}, "value": -3.3}, "title": null}}
      }},
     {"data": {"name": "vd"},
      "mark": {"type": "rule", "color": "#555", "strokeWidth": 1, "strokeDash": [1, 2]},
      "encoding": {
       "x": {"field": "t", "type": "quantitative", "scale": {"type": "log", "domain": [5, 150], "nice": false}, "axis": null}
      }}
    ],
    "resolve": {"axis": {"x": "independent", "y": "independent"}}
   }
  ]}
 ]}
]
}
